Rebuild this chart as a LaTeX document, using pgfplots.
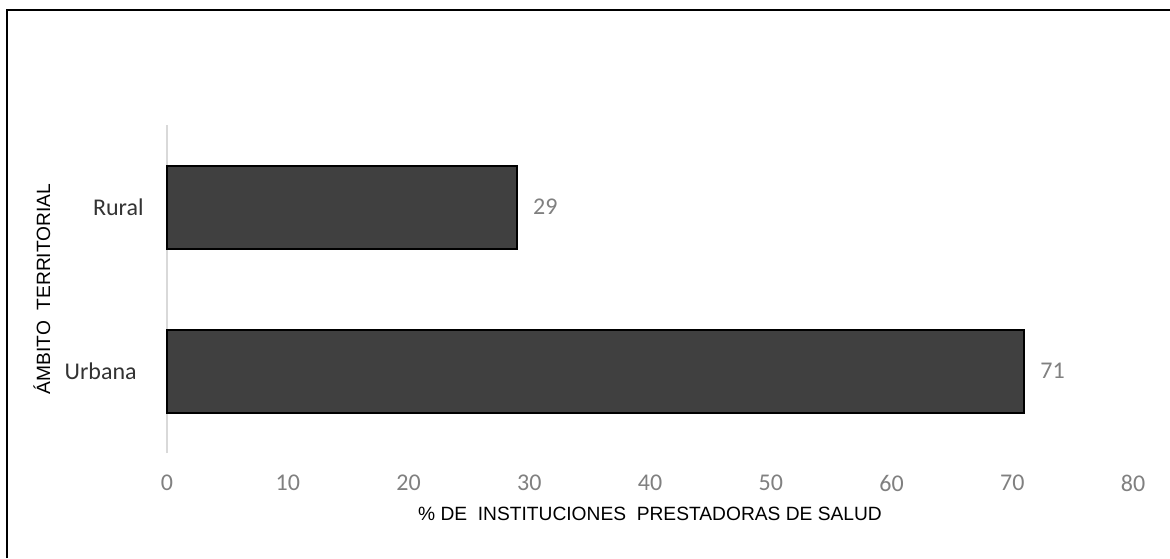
\documentclass[border=0pt]{standalone}
\usepackage{fontspec}
\usepackage{pgfplots}
\pgfplotsset{compat=1.18}
\setmainfont{Liberation Sans}
\newfontfamily\carlito{Carlito}
\definecolor{barfill}{RGB}{64,64,64}
\definecolor{ticktxt}{RGB}{128,128,128}
\definecolor{cattxt}{RGB}{51,51,51}
\definecolor{axgray}{RGB}{217,217,217}
\begin{document}
\begin{tikzpicture}
\useasboundingbox (0,0) rectangle (585pt,-279pt);
\draw[line width=1pt, black] (3.5pt,-279pt) -- (3.5pt,-4.75pt) -- (585pt,-4.75pt);
\begin{axis}[
  at={(83.5pt,-226.5pt)}, anchor=south west,
  scale only axis, width=483pt, height=164pt,
  xmin=0, xmax=80, ymin=-0.5, ymax=1.5,
  axis x line*=bottom, axis y line*=left,
  x axis line style={draw=none},
  y axis line style={draw=axgray, line width=1pt, shorten <=0pt},
  major tick length=0pt,
  xtick={0,10,...,80},
  ytick={0,1},
  yticklabels={Urbana\hspace*{3.5pt}, Rural},
  /pgf/number format/assume math mode=true,
  xticklabel style={anchor=north, inner sep=0pt, yshift=-11pt, text=ticktxt, font=\carlito\fontsize{12}{14}\selectfont},
  yticklabel style={anchor=east, inner sep=0pt, xshift=-11.5pt, text=cattxt, font=\carlito\fontsize{12}{14}\selectfont},
  xlabel={\%\ DE\ \ INSTITUCIONES\ \ PRESTADORAS DE SALUD},
  ylabel={ÁMBITO\ \ TERRITORIAL},
  xlabel style={at={([yshift=-30.5pt]axis description cs:0.5,0)}, anchor=center, inner sep=0pt, font=\fontsize{9.6}{11}\selectfont, text=black},
  ylabel style={at={([xshift=-62.5pt]axis description cs:0,0.5)}, anchor=center, inner sep=0pt, font=\fontsize{9.6}{11}\selectfont, text=black},
  clip=false,
]
\addplot[xbar, bar width=41.5pt, fill=barfill, draw=black, line width=1pt,
  point meta=x, nodes near coords,
  nodes near coords style={anchor=west, inner sep=0pt, xshift=7.5pt, text=ticktxt, font=\carlito\fontsize{12}{14}\selectfont}]
  coordinates {(71,0) (29,1)};
\end{axis}
\end{tikzpicture}
\end{document}
